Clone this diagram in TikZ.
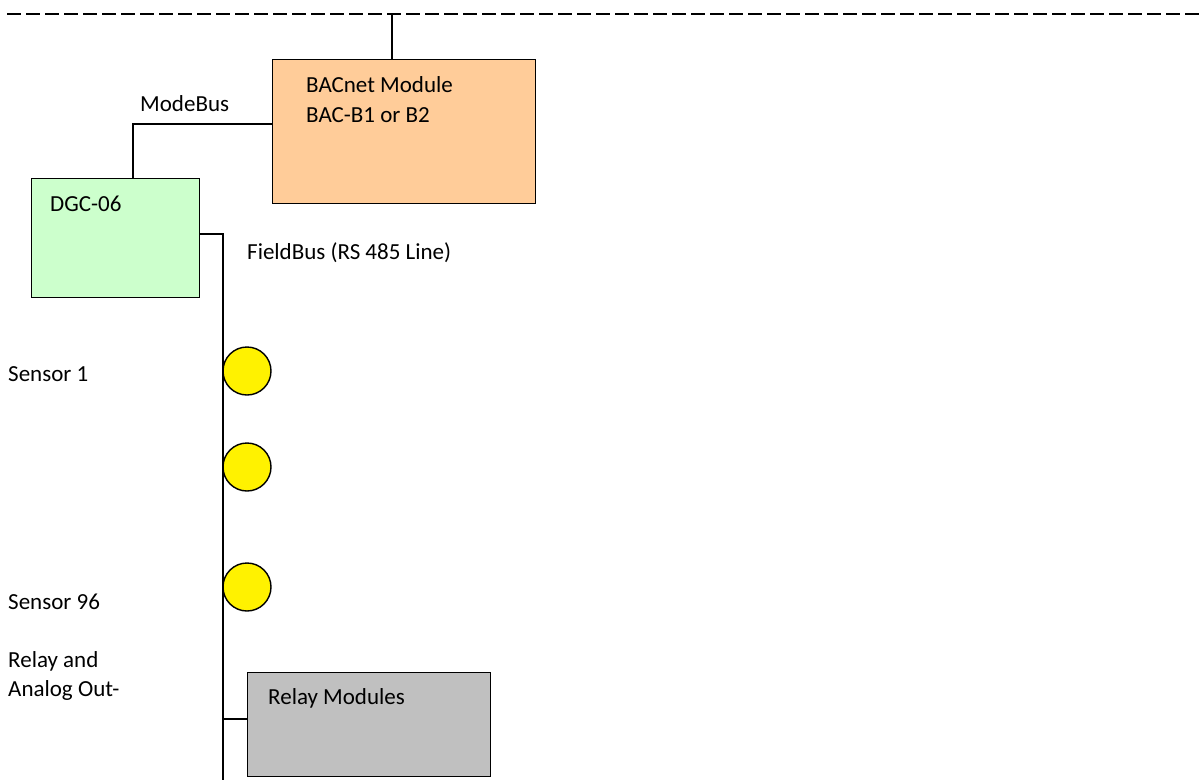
\documentclass[tikz,border=0pt]{standalone}
\usepackage{fontspec}
\setmainfont{Carlito}
\begin{document}
\begin{tikzpicture}[x=1pt,y=-1pt,
  box/.style={draw=black,line width=1.4pt,anchor=north west,inner sep=0pt},
  wire/.style={draw=black,line width=1.4pt},
  txt/.style={anchor=west,inner sep=0pt,font=\fontsize{23}{28}\selectfont},
  sensor/.style={circle,draw=black,line width=1.4pt,fill=yellow,minimum size=48pt,inner sep=0pt}]
\useasboundingbox (0,0) rectangle (1200,780);
% bus line at top
\coordinate (busL) at (7,14);
\coordinate (busR) at (1200,14);
\coordinate (drop) at (392,14);
\draw[line width=1.4pt,dash pattern=on 14pt off 5pt] (busL) -- (busR);
% boxes
\node[box,fill={rgb,255:red,255;green,204;blue,153},minimum width=263pt,minimum height=144pt] (bac) at (272,59) {};
\node[box,fill={rgb,255:red,204;green,255;blue,204},minimum width=168pt,minimum height=119pt] (dgc) at (31,178) {};
\node[box,fill={rgb,255:red,192;green,192;blue,192},minimum width=243pt,minimum height=104pt] (relay) at (247,672) {};
% texts
\node[txt] (tbac1) at (306,85) {BACnet Module};
\node[txt] (tbac2) at (306,115) {BAC-B1 or B2};
\node[txt] (tdgc) at (50,204) {DGC-06};
\node[txt] (tmod) at (140,104) {ModeBus};
\node[txt] (tfb) at (247,253) {FieldBus (RS 485 Line)};
\node[txt] (ts1) at (8,374) {Sensor 1};
\node[txt] (ts96) at (8,602) {Sensor 96};
\node[txt] (tra) at (8,661) {Relay and};
\node[txt] (tao) at (8,690) {Analog Out-};
\node[txt] (trm) at (268,698) {Relay Modules};
% sensors
\node[sensor] (s1) at (247,371) {};
\node[sensor] (s2) at (247,467) {};
\node[sensor] (s3) at (247,587) {};
% connectors
\coordinate (fbstart) at (223,234);
\coordinate (fbend) at (223,780);
\coordinate (mbA) at (133,178);
\coordinate (mbB) at (133,124);
\coordinate (rtap) at (223,719);
\draw[wire] (drop) -- (drop |- bac.north);
\draw[wire] (mbA) -- (mbB) -- (bac.west |- mbB);
\draw[wire] (dgc.east |- fbstart) -- (fbstart) -- (fbend);
\draw[wire] (rtap) -- (relay.west |- rtap);
\end{tikzpicture}
\end{document}
